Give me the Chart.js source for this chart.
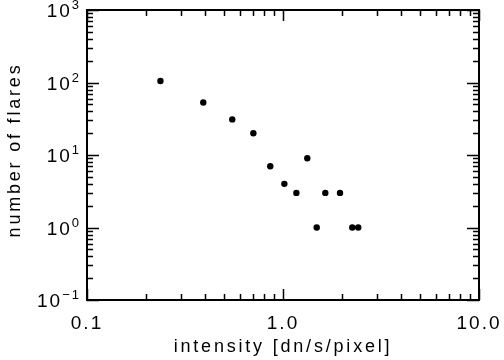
<!DOCTYPE html>
<html>
<head>
<meta charset="utf-8">
<script src="https://cdn.jsdelivr.net/npm/chart.js@4/dist/chart.umd.min.js"></script>
<style>
  html, body { margin: 0; padding: 0; background: #fff; }
  #wrap { width: 504px; height: 360px; position: relative; }
</style>
</head>
<body>
<div id="wrap"><canvas id="flareChart"></canvas></div>
<script>
// flare intensity distribution
const intensity = [0.237, 0.392, 0.551, 0.706, 0.861, 1.016, 1.17, 1.33, 1.486, 1.644, 1.954, 2.257, 2.42];
const flareCount = [105, 53, 31, 20, 7, 4, 3, 9, 1, 3, 3, 1, 1];

const xTickValues = [0.1, 1, 10];
const xTickLabels = ['0.1', '1.0', '10.0'];
const yTickValues = [0.1, 1, 10, 100, 1000];
const yTickExponents = ['\u22121', '0', '1', '2', '3'];

const xTitle = 'intensity [dn/s/pixel]';
const yTitle = 'number of flares';

const FONT = '"Liberation Sans", Arial, sans-serif';

// minor ticks at 2..9 inside each decade
function logTicks(min, max) {
    const out = [];
    for (let d = min; d < max; d *= 10) {
        for (let k = 1; k < 10; k++) out.push({ v: d * k, major: k === 1 });
    }
    out.push({ v: max, major: true });
    return out;
}

// IDL-style box with inward ticks and labels
const idlAxes = {
    id: 'idlAxes',
    afterDraw(chart) {
        const ctx = chart.ctx;
        const xs = chart.scales.x;
        const ys = chart.scales.y;
        const a = chart.chartArea;
        ctx.save();
        ctx.strokeStyle = '#000';
        ctx.lineWidth = 2;
        ctx.strokeRect(a.left, a.top, a.right - a.left, a.bottom - a.top);

        ctx.lineWidth = 1.5;
        ctx.beginPath();
        logTicks(xs.min, xs.max).forEach(t => {
            const px = Math.round(xs.getPixelForValue(t.v)) + 0.5;
            const len = t.major ? 11 : 6;
            ctx.moveTo(px, a.bottom); ctx.lineTo(px, a.bottom - len);
            ctx.moveTo(px, a.top); ctx.lineTo(px, a.top + len);
        });
        logTicks(ys.min, ys.max).forEach(t => {
            const py = Math.round(ys.getPixelForValue(t.v)) + 0.5;
            const len = t.major ? 12 : 6;
            ctx.moveTo(a.left, py); ctx.lineTo(a.left + len, py);
            ctx.moveTo(a.right, py); ctx.lineTo(a.right - len, py);
        });
        ctx.stroke();

        ctx.fillStyle = '#000';
        ctx.letterSpacing = '2px';

        // x tick labels
        ctx.font = '19px ' + FONT;
        ctx.textAlign = 'center';
        ctx.textBaseline = 'alphabetic';
        xTickValues.forEach((v, i) => {
            ctx.fillText(xTickLabels[i], xs.getPixelForValue(v), 329);
        });

        // y tick labels: 10 with superscript exponent
        yTickValues.forEach((v, i) => {
            const py = ys.getPixelForValue(v);
            ctx.font = '13px ' + FONT;
            ctx.textAlign = 'right';
            const ew = ctx.measureText(yTickExponents[i]).width;
            const right = a.left - 6;
            ctx.fillText(yTickExponents[i], right, py - 1);
            ctx.font = '19px ' + FONT;
            ctx.fillText('10', right - ew, py + 7);
        });

        // axis titles
        ctx.letterSpacing = '2.8px';
        ctx.font = '18px ' + FONT;
        ctx.textAlign = 'center';
        ctx.fillText(xTitle, (a.left + a.right) / 2, 352);

        ctx.save();
        ctx.translate(20, 150);
        ctx.rotate(-Math.PI / 2);
        ctx.fillText(yTitle, 0, 0);
        ctx.restore();

        ctx.restore();
    }
};

new Chart(document.getElementById('flareChart'), {
    type: 'scatter',
    data: {
        datasets: [{
            data: intensity.map((x, i) => ({ x: x, y: flareCount[i] })),
            backgroundColor: '#000',
            borderColor: '#000',
            pointRadius: 3.2,
            pointBorderWidth: 0
        }]
    },
    options: {
        responsive: true,
        maintainAspectRatio: false,
        animation: false,
        layout: {
            padding: { left: 87, right: 25, top: 10, bottom: 60 }
        },
        plugins: {
            legend: { display: false },
            tooltip: { enabled: false }
        },
        scales: {
            x: {
                type: 'logarithmic',
                min: 0.1,
                max: 10,
                display: false
            },
            y: {
                type: 'logarithmic',
                min: 0.1,
                max: 1000,
                display: false
            }
        }
    },
    plugins: [idlAxes]
});
</script>
</body>
</html>
